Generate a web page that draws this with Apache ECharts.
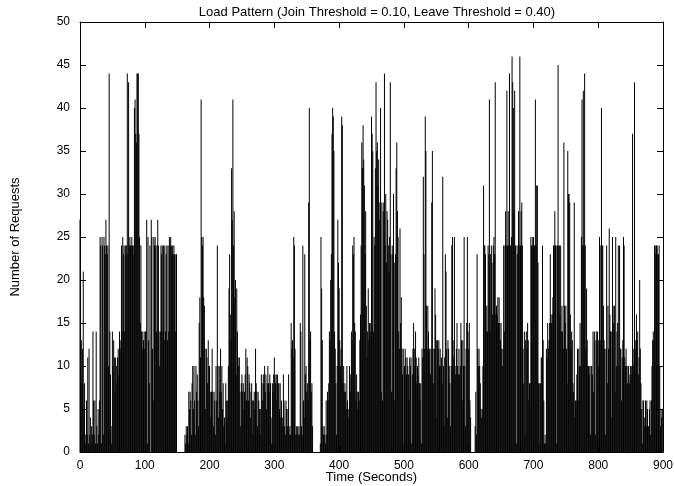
<!DOCTYPE html>
<html>
<head>
<meta charset="utf-8">
<title>Load Pattern</title>
<script src="https://cdn.jsdelivr.net/npm/echarts@6/dist/echarts.min.js"></script>
<style>
  html, body { margin: 0; padding: 0; background: #fff; }
  #main { width: 674px; height: 486px; }
</style>
</head>
<body>
<div id="main"></div>
<script>
// requests per second in blocks of 100 s
var load000 = [27,13,13,8,12,21,5,8,2,1, 6,2,11,1,12,2,4,1,3,2, 14,6,2,6,1,14,3,1,5,2, 6,25,24,1,25,24,2,25,24,23,
  27,24,23,24,10,44,14,9,3,1, 14,10,13,11,7,11,10,8,11,12, 9,14,13,12,24,14,25,23,24,14, 24,23,24,44,23,43,24,25,24,24,
  25,24,23,24,40,41,37,36,44,44, 44,37,25,15,24,14,14,12,13,14];
var load100 = [12,14,14,27,1,25,13,8,24,0, 27,25,12,6,25,24,25,24,14,24, 27,24,14,10,14,24,23,24,14,24, 13,24,14,23,24,13,24,14,25,24,
  25,24,23,24,23,24,23,14,23,23, 0,0,0,0,0,0,0,0,0,0, 0,0,2,1,3,2,3,1,7,5, 7,6,2,8,10,5,10,6,2,10,
  7,9,6,3,15,18,11,41,25,24, 25,18,17,12,5,12,11,8,13,10];
var load200 = [10,7,4,7,12,7,3,7,6,2, 10,6,24,10,4,10,7,12,7,10, 5,8,3,4,1,8,6,4,6,10, 19,23,16,13,33,27,41,24,28,18,
  20,9,19,14,11,10,11,7,3,8, 9,7,8,5,7,9,12,6,11,10, 6,9,8,4,7,8,6,2,6,7, 5,12,8,7,3,7,6,5,2,5,
  9,8,6,9,8,10,7,9,5,8, 10,8,7,9,8,4,1,8,7,9];
var load300 = [11,9,8,9,6,9,8,8,5,8, 4,6,3,4,9,6,3,2,6,5, 3,5,9,2,3,2,15,12,13,11, 25,24,12,2,3,2,3,2,3,2,
  15,14,3,2,24,6,4,23,9,10, 7,8,6,29,40,13,14,7,8,3, 0,0,0,0,0,0,0,0,0,0, 0,1,25,19,13,3,2,3,2,1,
  6,2,7,6,8,14,13,20,23,37, 40,39,35,14,12,8,2,10,27,22];
var load400 = [19,13,10,12,39,38,8,10,7,8, 7,5,10,6,4,5,10,7,9,14, 13,24,23,25,15,14,6,9,7,5, 7,6,13,16,24,36,33,38,34,31,
  23,28,17,11,14,19,13,15,14,15, 39,37,35,14,25,24,33,43,35,36, 31,34,27,29,40,7,29,6,28,29, 44,24,30,22,28,27,24,21,25,43,
  23,7,24,23,30,22,6,23,33,36, 28,25,14,12,26,15,18,12,9,12];
var load500 = [1,10,12,11,9,11,10,9,6,11, 10,11,1,9,12,15,12,10,14,11, 8,10,9,11,8,6,8,1,12,11, 32,23,12,39,35,17,12,17,14,12,
  12,9,12,29,35,12,8,12,19,16, 13,4,13,12,13,10,12,10,11,8, 32,10,3,11,23,21,12,4,13,12, 10,8,3,10,24,25,13,11,25,10,
  9,12,15,10,9,12,9,10,15,13, 6,13,10,25,10,3,12,15,25,14];
var load600 = [12,15,6,4,0,0,0,0,0,0, 3,7,2,23,12,10,12,10,8,5, 4,5,10,31,24,24,23,14,17,14, 24,23,41,14,23,24,22,16,24,25,
  23,43,16,17,16,18,15,18,15,13, 15,12,10,12,24,14,24,28,24,42, 24,28,24,44,24,24,25,46,43,40, 28,42,24,24,1,23,24,28,24,46,
  24,28,29,24,12,8,14,2,13,14, 12,15,13,6,8,8,25,24,24,25];
var load700 = [25,24,24,41,24,31,31,22,8,8, 1,8,11,11,24,13,6,1,2,1, 12,11,15,12,13,15,23,16,15,16, 18,24,24,28,24,24,1,24,45,24,
  24,16,24,14,17,14,12,36,17,15, 17,12,8,35,30,30,29,16,12,14, 13,8,7,29,4,6,6,9,12,6, 12,10,15,10,25,41,24,42,24,44,
  24,12,19,13,10,10,9,10,2,10, 10,9,14,7,14,13,2,14,13,14];
var load800 = [13,10,25,24,13,40,24,24,17,13, 12,2,12,24,8,17,12,26,16,14, 14,4,25,17,15,17,7,25,10,14, 15,24,10,24,12,12,6,11,13,25,
  24,11,10,12,10,8,10,10,8,9, 10,10,9,37,10,12,43,12,13,16, 13,14,9,11,20,12,8,5,1,6, 6,4,3,6,3,6,5,3,3,5,
  6,2,6,10,13,14,13,24,24,23, 24,24,23,23,24,10,3,5,4,5];

var xTicks = [0, 100, 200, 300, 400, 500, 600, 700, 800, 900];
var yTicks = [0, 5, 10, 15, 20, 25, 30, 35, 40, 45, 50];

var requests = [].concat(load000, load100, load200, load300, load400, load500, load600, load700, load800);
var points = requests.map(function (v, i) { return [i, v]; });

var font = 'Liberation Sans, Arial, Helvetica, sans-serif';
var chart = echarts.init(document.getElementById('main'), null, { renderer: 'canvas' });

function xAx(pos, labels) {
  return {
    type: 'value', position: pos,
    min: xTicks[0], max: xTicks[xTicks.length - 1], interval: 100,
    axisLine: { show: true, onZero: false, lineStyle: { color: '#000', width: 1 } },
    axisTick: { show: true, inside: true, length: 6, lineStyle: { color: '#000' } },
    axisLabel: { show: labels, color: '#000', fontSize: 12, fontFamily: font, margin: 8 },
    splitLine: { show: false },
    name: labels ? 'Time (Seconds)' : '', nameLocation: 'middle', nameGap: 19,
    nameMoveOverlap: false,
    nameTextStyle: { color: '#000', fontSize: 13, fontFamily: font }
  };
}
function yAx(pos, labels) {
  return {
    type: 'value', position: pos,
    min: yTicks[0], max: yTicks[yTicks.length - 1], interval: 5,
    axisLine: { show: true, onZero: false, lineStyle: { color: '#000', width: 1 } },
    axisTick: { show: true, inside: true, length: 6, lineStyle: { color: '#000' } },
    axisLabel: { show: labels, color: '#000', fontSize: 12, fontFamily: font, margin: 10 },
    splitLine: { show: false },
    name: labels ? 'Number of Requests' : '', nameLocation: 'middle', nameGap: 58,
    nameMoveOverlap: false,
    nameTextStyle: { color: '#000', fontSize: 13, fontFamily: font }
  };
}

chart.setOption({
  animation: false,
  backgroundColor: '#fff',
  title: {
    text: 'Load Pattern (Join Threshold = 0.10, Leave Threshold = 0.40)',
    left: 372, top: 1, textAlign: 'center',
    textStyle: { color: '#000', fontSize: 13, fontWeight: 'normal', fontFamily: font }
  },
  grid: { left: 80, top: 22, width: 583, height: 430, containLabel: false, outerBoundsMode: 'none' },
  xAxis: [xAx('bottom', true), xAx('top', false)],
  yAxis: [yAx('left', true), yAx('right', false)],
  series: [{
    type: 'bar',
    data: points,
    barWidth: 1,
    itemStyle: { color: '#000' },
    xAxisIndex: 0, yAxisIndex: 0
  }]
});
</script>
</body>
</html>
